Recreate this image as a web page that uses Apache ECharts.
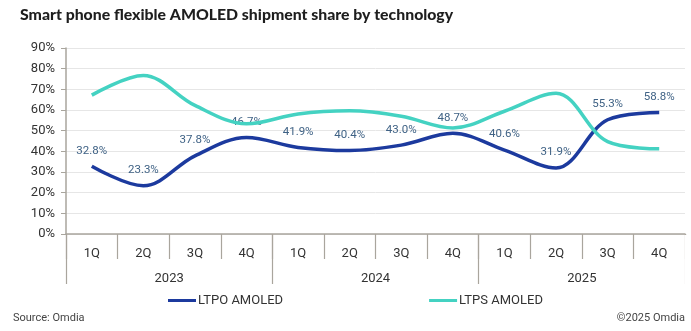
<!DOCTYPE html>
<html>
<head>
<meta charset="utf-8">
<script src="https://cdn.jsdelivr.net/npm/echarts@6/dist/echarts.min.js"></script>
<style>
  html, body { margin: 0; padding: 0; background: #ffffff; }
  #chart { width: 691px; height: 331px; }
</style>
</head>
<body>
<div id="chart"></div>
<script>
// Quarterly share of flexible AMOLED smartphone shipments, by backplane technology
const quarters = ['1Q', '2Q', '3Q', '4Q', '1Q', '2Q', '3Q', '4Q', '1Q', '2Q', '3Q', '4Q'];
const years = ['2023', '2024', '2025'];
const ltpoShare = [32.8, 23.3, 37.8, 46.7, 41.9, 40.4, 43.0, 48.7, 40.6, 31.9, 55.3, 58.8];
const ltpsShare = [67.2, 76.7, 62.2, 53.3, 58.1, 59.6, 57.0, 51.3, 59.4, 68.1, 44.7, 41.2];
const yTicks = { min: 0, max: 90, interval: 10 };

const ltpoColor = '#1c3a9e';
const ltpsColor = '#44d2c2';
const axisGrey = '#a9a59d';
const textDark = '#333333';
const fontFamily = 'Roboto, "Noto Sans", sans-serif';

const chart = echarts.init(document.getElementById('chart'), null, { renderer: 'canvas' });

chart.setOption({
  backgroundColor: '#ffffff',
  animation: false,
  textStyle: { fontFamily: fontFamily },
  title: {
    text: 'Smart phone flexible AMOLED shipment share by technology',
    left: 15,
    top: 2,
    textStyle: { fontFamily: 'Lato, sans-serif', fontWeight: 900, fontSize: 15.8, color: '#1e1e1e' }
  },
  grid: { left: 66, right: 6, top: 48, bottom: 97, containLabel: false },
  legend: {
    left: 163,
    top: 289,
    itemGap: 146,
    itemWidth: 28,
    itemHeight: 3,
    icon: 'rect',
    textStyle: { fontFamily: fontFamily, fontSize: 13, color: textDark, padding: [0, 0, 0, -3] },
    data: [
      { name: 'LTPO AMOLED', itemStyle: { color: ltpoColor, opacity: 1 } },
      { name: 'LTPS AMOLED', itemStyle: { color: ltpsColor, opacity: 1 } }
    ]
  },
  xAxis: [
    {
      type: 'category',
      data: quarters,
      boundaryGap: true,
      axisLine: { show: true, lineStyle: { color: axisGrey, width: 1.5 } },
      axisTick: { show: true, interval: 0, length: 25, lineStyle: { color: axisGrey, width: 1.2 } },
      axisLabel: { interval: 0, margin: 13, fontSize: 13, color: textDark, fontFamily: fontFamily },
      splitLine: { show: false }
    },
    {
      type: 'category',
      data: years,
      position: 'bottom',
      boundaryGap: true,
      axisLine: { show: false },
      axisTick: { show: true, interval: 0, length: 50, lineStyle: { color: axisGrey, width: 1.2 } },
      axisLabel: { interval: 0, margin: 38, fontSize: 13, color: textDark, fontFamily: fontFamily },
      splitLine: { show: false }
    }
  ],
  yAxis: {
    type: 'value',
    min: yTicks.min,
    max: yTicks.max,
    interval: yTicks.interval,
    axisLine: { show: true, lineStyle: { color: axisGrey, width: 1.5 } },
    axisTick: { show: true, length: 5, lineStyle: { color: axisGrey } },
    axisLabel: { formatter: '{value}%', fontSize: 13, color: textDark, margin: 11, fontFamily: fontFamily },
    splitLine: { show: true, lineStyle: { color: '#e6e6e6', width: 1 } }
  },
  series: [
    {
      name: 'LTPO AMOLED',
      type: 'line',
      data: ltpoShare,
      smooth: 0.35,
      symbol: 'circle',
      symbolSize: 1,
      showSymbol: true,
      itemStyle: { color: ltpoColor, opacity: 0 },
      lineStyle: { width: 3.5, color: ltpoColor },
      label: {
        show: true,
        position: 'top',
        distance: 9,
        formatter: (p) => p.value.toFixed(1) + '%',
        fontSize: 11.5,
        color: '#3f6285',
        opacity: 1,
        fontFamily: fontFamily
      },
      z: 3
    },
    {
      name: 'LTPS AMOLED',
      type: 'line',
      data: ltpsShare,
      smooth: 0.35,
      symbol: 'none',
      itemStyle: { color: ltpsColor },
      lineStyle: { width: 3.5, color: ltpsColor },
      z: 4
    }
  ],
  graphic: [
    {
      // hide the closing boundary ticks at the far right end of the category axes
      type: 'rect',
      right: 0,
      top: 235,
      shape: { width: 6.5, height: 56 },
      style: { fill: '#ffffff' },
      z: 100
    },
    {
      type: 'text',
      left: 13,
      top: 313,
      style: { text: 'Source: Omdia', fontSize: 11, fill: '#444444', fontFamily: fontFamily }
    },
    {
      type: 'text',
      right: 6,
      top: 313,
      style: { text: '©2025 Omdia', fontSize: 11, fill: '#444444', fontFamily: fontFamily }
    }
  ]
});
</script>
</body>
</html>
